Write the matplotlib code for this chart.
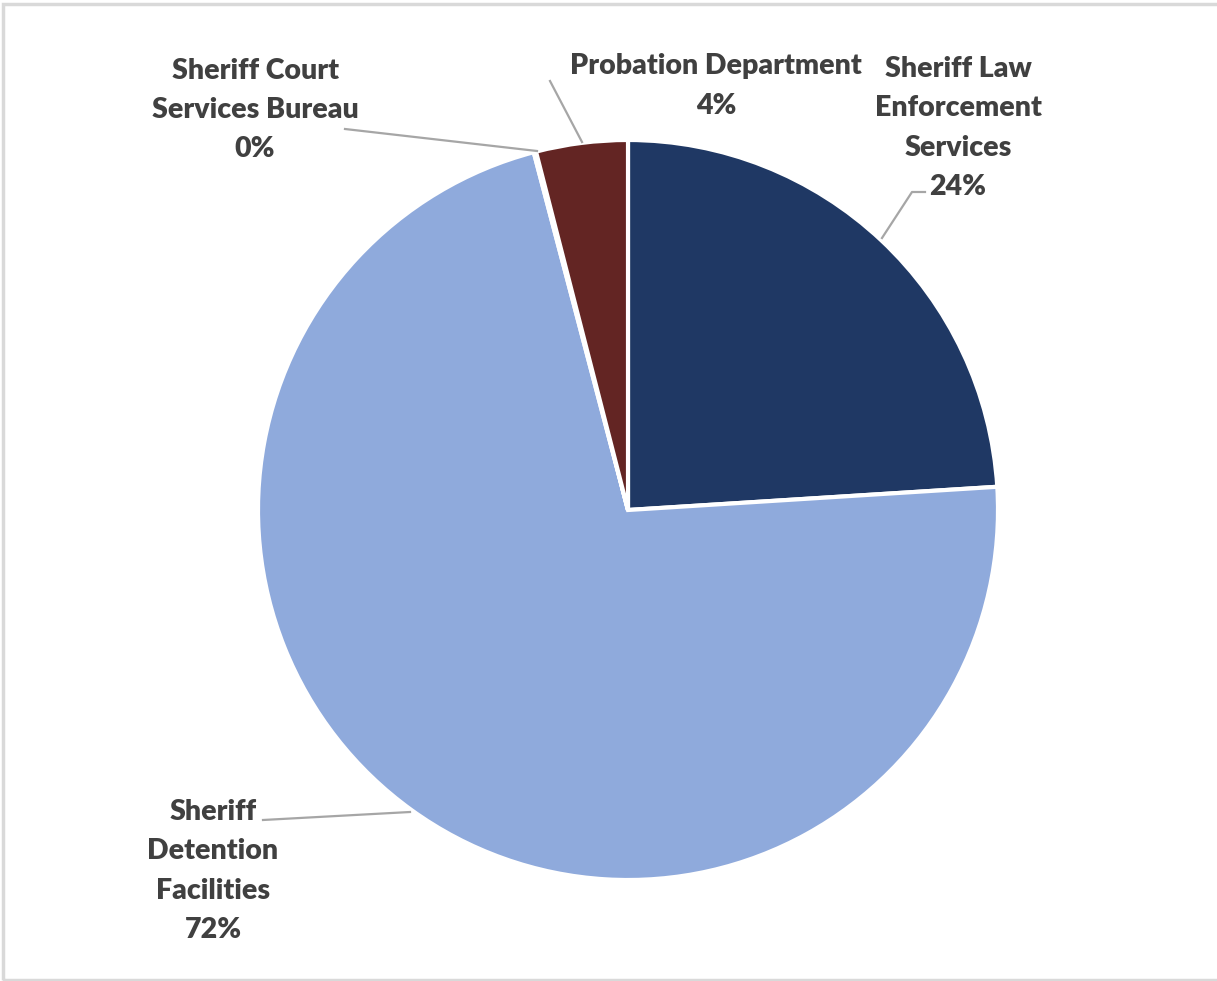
import matplotlib
matplotlib.use("Agg")
import matplotlib.pyplot as plt
from matplotlib.patches import Rectangle

categories = ["Sheriff Law\nEnforcement\nServices", "Sheriff\nDetention\nFacilities",
              "Sheriff Court\nServices Bureau", "Probation Department"]
values = [24.0, 71.9, 0.1, 4.0]
pct_labels = ["24%", "72%", "0%", "4%"]
colors = ["#1F3864", "#8FAADC", "#7F7F7F", "#632523"]

W, H = 1217, 981
fig = plt.figure(figsize=(W / 100, H / 100), dpi=100)
ax = fig.add_axes([0, 0, 1, 1])
ax.set_xlim(0, W)
ax.set_ylim(0, H)
ax.set_aspect("equal")
ax.axis("off")

# chart border
fig.patches.append(Rectangle((3 / W, 1 / H), 1.0, (H - 5) / H, transform=fig.transFigure,
                             fill=False, edgecolor="#D9D9D9", linewidth=2.5))

cx, cy, r = 628, H - 510, 370
ax.pie(values, colors=colors, startangle=90, counterclock=False, center=(cx, cy), radius=r,
       wedgeprops=dict(edgecolor="white", linewidth=3), frame=True)
ax.set_xlim(0, W)
ax.set_ylim(0, H)
ax.axis("off")

txt = dict(fontfamily="Lato", fontweight="heavy", fontsize=20.5, color="#404040",
           ha="center", va="center", linespacing=1.62)
label_pos = [(958, 128), (213, 871), (255, 110), (716, 86)]
for cat, pct, (x, y) in zip(categories, pct_labels, label_pos):
    ax.text(x, H - y, cat + "\n" + pct, **txt)

lc = dict(color="#A6A6A6", linewidth=1.6)
leaders = [
    ([925, 912, 882], [192, 192, 238]),
    ([263, 410], [820, 812]),
    ([345, 537], [129, 151]),
    ([550, 582], [81, 142]),
]
for xs, ys in leaders:
    ax.plot(xs, [H - v for v in ys], **lc)

fig.savefig("out.png", dpi=100, facecolor="white")
